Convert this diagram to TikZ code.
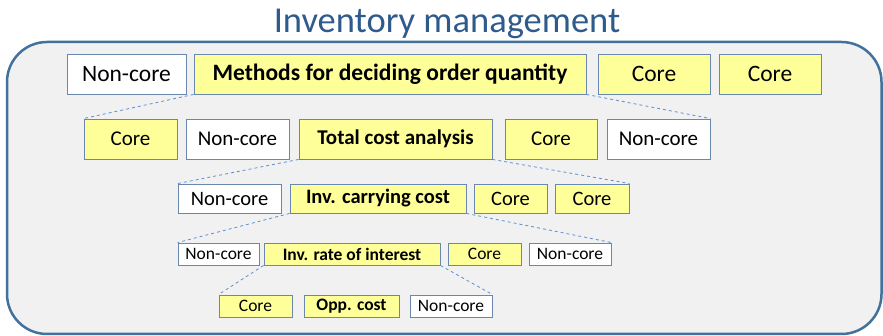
\documentclass[tikz,border=0pt]{standalone}
\usepackage{fontspec}
\setmainfont{Carlito}
\definecolor{frameblue}{HTML}{41719C}
\definecolor{titleblue}{HTML}{2E5B8C}
\definecolor{boxblue}{HTML}{6A88AE}
\definecolor{linkblue}{HTML}{5B8FD0}
\definecolor{coreyellow}{HTML}{FFFF99}
\definecolor{panelgray}{HTML}{F1F1F1}
\tikzset{
  topic/.style={draw=boxblue, line width=0.9pt, inner sep=0pt, text=black},
  core/.style={topic, fill=coreyellow},
  noncore/.style={topic, fill=white},
  link/.style={draw=linkblue, dashed, line width=0.8pt}
}

\begin{document}
\begin{tikzpicture}[x=1pt,y=-1pt]
\useasboundingbox (0,0) rectangle (883,336);
% panel
\draw[frameblue, fill=panelgray, line width=2.5pt, rounded corners=40pt] (7,42) rectangle (881.5,334);
\node[text=titleblue, anchor=base, inner sep=0pt, font=\fontsize{36.5}{40}\selectfont] (title) at (447,33) {Inventory management};
% level 1
\scope[font=\fontsize{23.5}{26}\selectfont, minimum height=40pt]
\node[noncore, minimum width=119pt] (nc1) at (126.5,74) {Non-core};
\node[core, minimum width=392pt, font=\fontsize{23.5}{26}\selectfont\bfseries] (meth) at (390,74) {Methods for deciding order quantity};
\node[core, minimum width=112pt] (c1a) at (654,74) {Core};
\node[core, minimum width=102pt] (c1b) at (770,74) {Core};
\endscope
% level 2
\scope[font=\fontsize{21}{24}\selectfont, minimum height=40pt]
\node[core, minimum width=93pt] (c2a) at (130.5,139) {Core};
\node[noncore, minimum width=103pt] (nc2a) at (237.5,139) {Non-core};
\node[core, minimum width=193pt, font=\fontsize{21}{24}\selectfont\bfseries] (tca) at (395.5,139) {Total cost analysis};
\node[core, minimum width=92pt] (c2b) at (551,139) {Core};
\node[noncore, minimum width=103pt] (nc2b) at (658.5,139) {Non-core};
\endscope
% level 3
\scope[font=\fontsize{20.5}{23}\selectfont, minimum height=29pt]
\node[noncore, minimum width=103pt] (nc3) at (229.5,198.5) {Non-core};
\node[core, minimum width=176pt, font=\fontsize{20.5}{23}\selectfont\bfseries] (icc) at (378,198.5) {Inv. carrying cost};
\node[core, minimum width=73pt] (c3a) at (510.5,198.5) {Core};
\node[core, minimum width=74pt] (c3b) at (592,198.5) {Core};
\endscope
% level 4
\scope[font=\fontsize{17.5}{20}\selectfont, minimum height=22pt]
\node[noncore, minimum width=81pt] (nc4a) at (218.5,254) {Non-core};
\node[core, minimum width=176pt, font=\fontsize{17.5}{20}\selectfont\bfseries] (iri) at (352,254) {Inv. rate of interest};
\node[core, minimum width=73pt] (c4) at (484.5,254) {Core};
\node[noncore, minimum width=82pt] (nc4b) at (570,254) {Non-core};
\endscope
% level 5
\scope[font=\fontsize{17.5}{20}\selectfont, minimum height=22pt]
\node[core, minimum width=73pt] (c5) at (255.5,306) {Core};
\node[core, minimum width=95pt, font=\fontsize{17.5}{20}\selectfont\bfseries] (opp) at (351.5,306) {Opp. cost};
\node[noncore, minimum width=82pt] (nc5) at (451,306) {Non-core};
\endscope
% zoom lines
\draw[link] (meth.south west) -- (c2a.north west)
            (meth.south east) -- (nc2b.north east);
\draw[link] (tca.south west) -- (nc3.north west)
            (tca.south east) -- (c3b.north east);
\draw[link] (icc.south west) -- (nc4a.north west)
            (icc.south east) -- (nc4b.north east);
\draw[link] (iri.south west) -- (c5.north west)
            (iri.south east) -- (nc5.north east);
\end{tikzpicture}
\end{document}
